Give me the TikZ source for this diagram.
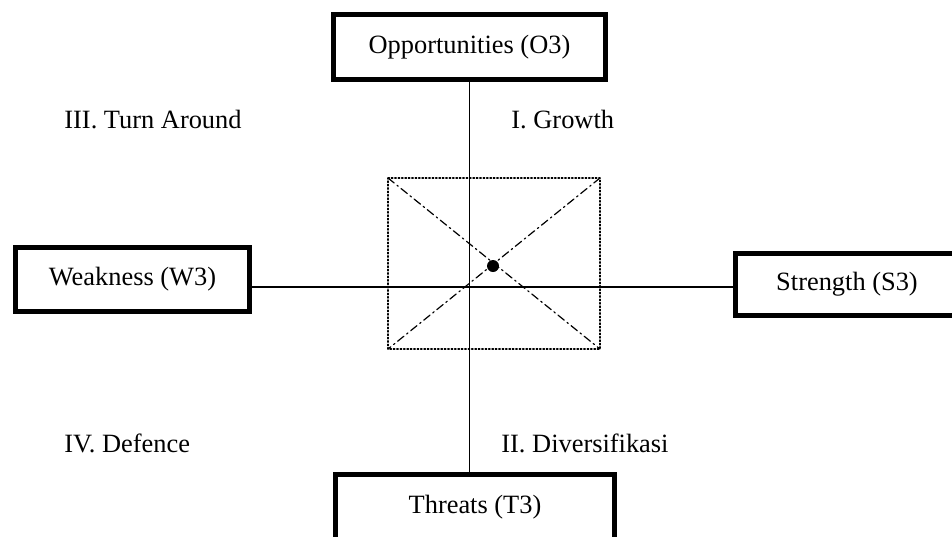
\documentclass[tikz,border=0pt]{standalone}
\usepackage{fontspec}
\setmainfont{Liberation Serif}
\usepackage{tkz-euclide}
\usetikzlibrary{calc}
\tikzset{quadbox/.style = {draw, line width = 2.5pt, inner sep = 0pt, font = \fontsize{13.2}{15}\selectfont}}
\tikzset{quadlabel/.style = {anchor = base west, inner sep = 0pt, font = \fontsize{13.2}{15}\selectfont}}
\tikzset{axisline/.style = {line width = 0.8pt}}
\tikzset{dotbox/.style = {line width = 0.7pt, dash pattern = on 0.7pt off 1pt}}
\tikzset{diag/.style = {line width = 0.6pt, dash pattern = on 4pt off 1.8pt on 0.8pt off 1.8pt}}

\begin{document}
\begin{tikzpicture}[x = 0.5pt, y = -0.5pt]
        \useasboundingbox (0,0) rectangle (952,536);
        \node[quadbox, minimum width = 136pt, minimum height = 32.5pt] (opp) at (469.5,47) {Opportunities (O3)};
        \node[quadbox, minimum width = 139.5pt, minimum height = 32.5pt] (thr) at (475,507) {Threats (T3)};
        \node[quadbox, minimum width = 117pt, minimum height = 32pt] (wk) at (132.5,279.5) {Weakness (W3)};
        \node[quadbox, minimum width = 111.5pt, minimum height = 31pt] (str) at (847,284.5) {Strength (S3)};
        \node[quadlabel] (qIII) at (64,128) {III. Turn Around};
        \node[quadlabel] (qI) at (511,128) {I. Growth};
        \node[quadlabel] (qIV) at (64,452) {IV. Defence};
        \node[quadlabel] (qII) at (501,452) {II. Diversifikasi};
        \coordinate (h) at (0,287);
        \draw[axisline] (opp.south) -- (opp.south |- thr.north);
        \draw[axisline] (wk.east |- h) -- (str.west |- h);
        \tkzDefPoints{388/178/A, 600/178/B, 600/349/C, 388/349/D, 493/266/P}
        \tkzDrawPolygon[dotbox](A,B,C,D)
        \tkzDrawSegments[diag](A,C B,D)
        \fill (P) circle (3pt);
    \end{tikzpicture}
\end{document}
